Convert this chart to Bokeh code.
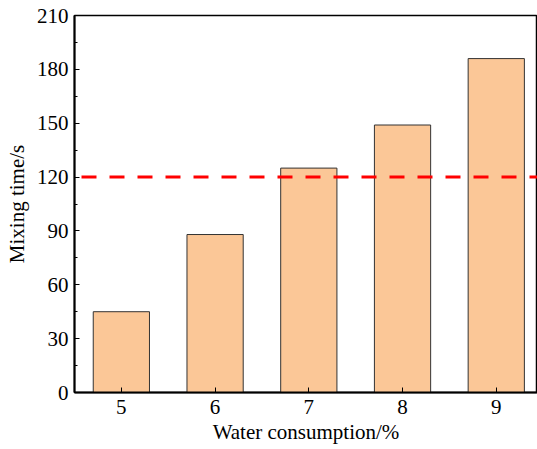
from bokeh.plotting import figure
from bokeh.models import FixedTicker, Span, Range1d
from bokeh.embed import file_html
from bokeh.resources import INLINE

water = [5, 6, 7, 8, 9]
mixing_time = [45, 88, 125, 149, 186]
threshold = 120
y_ticks = [0, 30, 60, 90, 120, 150, 180, 210]
y_minor = [15, 45, 75, 105, 135, 165, 195]

FONT = "Liberation Serif"

p = figure(width=537, height=449, output_backend="svg", toolbar_location=None,
           x_range=Range1d(4.5, 9.44), y_range=Range1d(0, 210),
           min_border_left=74, min_border_right=0, min_border_top=15, min_border_bottom=57)

p.vbar(x=water, top=mixing_time, width=0.6, fill_color="#FBC797",
       line_color="#333333", line_width=1)

span = Span(location=threshold, dimension="width", line_color="#FF0000",
            line_width=3, line_dash="15 13", line_dash_offset=21)
p.add_layout(span)

p.grid.visible = False
p.outline_line_color = "black"
p.outline_line_width = 1.5

p.xaxis.ticker = FixedTicker(ticks=water)
p.yaxis.ticker = FixedTicker(ticks=y_ticks, minor_ticks=y_minor)

for ax in (p.xaxis[0], p.yaxis[0]):
    ax.axis_line_width = 2
    ax.axis_line_color = "black"
    ax.major_tick_in = 5
    ax.major_tick_out = 0
    ax.minor_tick_in = 3
    ax.minor_tick_out = 0
    ax.major_tick_line_color = "black"
    ax.minor_tick_line_color = "black"
    ax.major_label_text_font = FONT
    ax.major_label_text_font_size = "21px"
    ax.major_label_text_color = "black"
    ax.axis_label_text_font = FONT
    ax.axis_label_text_font_size = "21px"
    ax.axis_label_text_font_style = "normal"
    ax.axis_label_text_color = "black"

p.xaxis.minor_tick_line_color = None
p.xaxis.axis_label = "Water consumption/%"
p.yaxis.axis_label = "Mixing time/s"
p.xaxis.major_label_standoff = 7
p.yaxis.major_label_standoff = 6
p.xaxis.axis_label_standoff = 3
p.yaxis.axis_label_standoff = 5

open("out.html", "w").write(file_html(p, INLINE))
